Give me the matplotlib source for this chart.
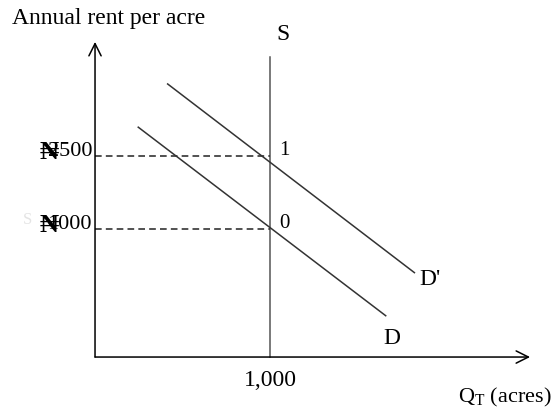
import matplotlib.pyplot as plt

plt.rcParams['font.family'] = ['Liberation Serif', 'DejaVu Serif']

# data (quantity in acres, rent in naira)
supply_q = 1000
rent_levels = [1000, 1500]
point_labels = ['0', '1']
hidden_digits = ['1', '2']      # digit printed under the naira sign
rent_rest = ['000', '500']
demand_q = [247, 1661]
demand_r = [1697, 406]
demand2_q = [415, 1825]
demand2_r = [1993, 701]

fig = plt.figure(figsize=(5.6, 4.08), dpi=100)
ax = fig.add_axes([0, 0, 1, 1])
ax.set_xlim(-543, 2657)
ax.set_ylim(-226, 2568)
ax.axis('off')

y0 = 123  # where the horizontal axis sits

# axes with open arrow heads
ax.annotate('', xy=(0, 2281), xytext=(0, y0),
            arrowprops=dict(arrowstyle='->', color='black', lw=1.1,
                            mutation_scale=22, shrinkA=0, shrinkB=0))
ax.annotate('', xy=(2486, y0), xytext=(0, y0),
            arrowprops=dict(arrowstyle='->', color='black', lw=1.1,
                            mutation_scale=22, shrinkA=0, shrinkB=0))

# supply line
ax.plot([supply_q, supply_q], [y0, 2178], color='#555555', lw=1.1)

# demand curves
ax.plot(demand_q, demand_r, color='#333333', lw=1.1)
ax.plot(demand2_q, demand2_r, color='#333333', lw=1.1)

# dashed guides and labels (naira sign printed over the first digit)
for r, lab, hd, rest in zip(rent_levels, point_labels, hidden_digits, rent_rest):
    ax.plot([0, supply_q], [r, r], color='#333333', lw=1.2, ls=(0, (4, 2.5)))
    ax.text(-17, r + 28, hd + rest, ha='right', va='center', fontsize=16)
    ax.text(-260, r + 25, '\u20a6', ha='center', va='center', fontsize=19,
            fontweight='bold')
    ax.text(supply_q + 80, r + 35, lab, ha='center', va='center', fontsize=15)

ax.text(-386, 1062, 'S', ha='center', va='center', fontsize=12, color='#e4e4e4')
ax.text(-475, 2438, 'Annual rent per acre', ha='left', va='center', fontsize=17)
ax.text(supply_q + 75, 2335, 'S', ha='center', va='center', fontsize=17)
ax.text(1914, 651, "D'", ha='center', va='center', fontsize=17)
ax.text(1697, 253, 'D', ha='center', va='center', fontsize=17)
ax.text(supply_q, -41, '1,000', ha='center', va='center', fontsize=17)
ax.text(2340, -151, r'Q$_{\mathregular{T}}$ (acres)', ha='center', va='center', fontsize=16)

fig.savefig('out.png', dpi=100)
